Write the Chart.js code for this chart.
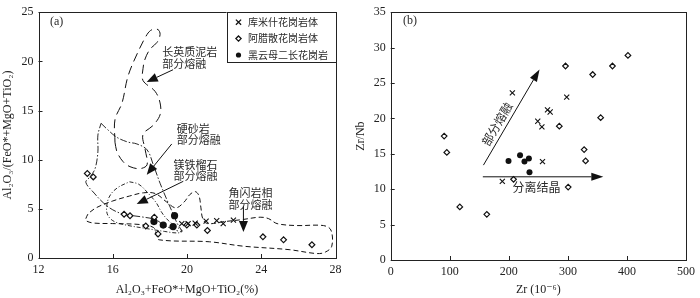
<!DOCTYPE html>
<html>
<head>
<meta charset="utf-8">
<script src="https://cdn.jsdelivr.net/npm/chart.js@4"></script>
<style>
html, body { margin: 0; padding: 0; background: #fff; }
#wrap { position: relative; width: 700px; height: 298px; }
.box { position: absolute; top: 0; width: 350px; height: 298px; }
</style>
</head>
<body>
<div id="wrap">
  <div class="box" style="left:0"><canvas id="chartA"></canvas></div>
  <div class="box" style="left:350px"><canvas id="chartB"></canvas></div>
</div>
<script>
// tick labels
const xTicksA = [12, 16, 20, 24, 28];
const yTicksA = [0, 5, 10, 15, 20, 25];
const xTicksB = [0, 100, 200, 300, 400, 500];
const yTicksB = [0, 5, 10, 15, 20, 25, 30, 35];

const seriesNames = ['库米什花岗岩体', '阿腊散花岗岩体', '黑云母二长花岗岩'];

// (a) Al2O3+FeO*+MgO+TiO2 vs Al2O3/(FeO*+MgO+TiO2)
const kumishiA = [[19.72, 3.5], [20.06, 3.5], [20.44, 3.55], [21.03, 3.75], [21.6, 3.8], [21.95, 3.5], [22.5, 3.85]];
const alasanA = [[14.63, 8.6], [14.95, 8.25], [16.61, 4.45], [16.93, 4.3], [17.78, 3.25], [18.24, 4.15], [18.44, 2.45],
  [19.99, 3.35], [20.53, 3.35], [21.1, 2.8], [24.09, 2.15], [25.2, 1.85], [26.73, 1.35]];
const biotiteA = [[18.22, 3.7], [18.72, 3.35], [19.25, 3.2], [19.33, 4.3]];

// melt fields of the experimental sources
const pelite = [[16.12, 11.78], [16.12, 14.07], [16.5, 15.77], [16.82, 18.48], [17.31, 20.75], [17.85, 22.74], [18.12, 23.23],
  [18.44, 23.23], [18.55, 22.74], [18.39, 21.94], [18.01, 21.24], [17.74, 20.24], [17.63, 19.25], [17.63, 18.05],
  [18.28, 16.95], [18.55, 15.77], [18.55, 14.57], [18.17, 13.48], [17.63, 12.57], [17.74, 11.08], [17.85, 9.49],
  [17.47, 9.09], [16.93, 9.29], [16.56, 9.79], [16.23, 10.79], [16.12, 11.78]];
const greywacke = [[15.37, 13.7], [15.7, 13.1], [16.2, 12.3], [16.8, 11.8], [17.3, 11.6], [17.85, 11.0], [18.2, 9.4],
  [18.55, 7.6], [18.9, 6.0], [19.2, 4.7], [19.45, 3.6], [19.7, 2.7], [19.3, 2.9], [18.8, 3.3], [18.3, 3.9], [17.5, 4.2],
  [16.6, 4.45], [16.0, 4.9], [15.5, 5.6], [15.0, 6.6], [14.55, 7.7], [14.8, 8.3], [15.05, 9.1], [15.2, 10.8],
  [15.2, 12.5], [15.37, 13.7]];
const mafic = [[16.9, 7.75], [17.4, 7.5], [17.9, 6.6], [18.35, 5.6], [18.65, 4.6], [19.0, 3.8], [19.4, 3.2], [19.75, 2.75],
  [19.5, 2.55], [18.8, 2.7], [17.8, 3.0], [16.6, 3.4], [16.0, 3.8], [15.7, 4.5], [15.7, 5.6], [15.9, 6.5], [16.3, 7.2],
  [16.9, 7.75]];
const amphibolite = [[14.55, 4.0], [14.68, 4.5], [15.14, 5.14], [16.0, 5.8], [16.9, 6.3], [17.65, 6.63], [18.3, 6.55],
  [18.9, 5.7], [19.4, 5.1], [19.85, 5.7], [20.15, 6.45], [20.45, 6.75], [20.65, 6.3], [20.75, 5.1], [20.85, 4.0],
  [21.1, 3.5], [22.0, 3.7], [22.95, 3.9], [23.94, 4.15], [24.4, 4.0], [24.85, 3.5], [25.9, 3.3], [27.35, 3.3],
  [27.75, 2.85], [27.8, 1.2], [27.45, 0.6], [27.0, 0.45], [25.5, 0.85], [23.04, 1.2], [21.2, 1.65], [18.5, 1.85],
  [18.35, 2.4], [18.2, 3.1], [17.5, 3.4], [16.0, 3.5], [15.0, 3.55], [14.6, 3.75], [14.55, 4.0]];

// (b) Zr vs Zr/Nb
const kumishiB = [[206, 23.6], [298, 23.0], [265.5, 21.2], [270, 20.9], [249, 19.6], [256, 18.8], [257, 13.9], [189, 11.1]];
const alasanB = [[90.5, 17.5], [95, 15.2], [296, 27.4], [342, 26.2], [375.5, 27.4], [401.7, 28.9], [285.5, 18.9],
  [355.5, 20.1], [327.5, 15.6], [330, 14.0], [300.5, 10.3], [208, 11.4], [117, 7.5], [162.7, 6.45]];
const biotiteB = [[199.5, 14.0], [219, 14.8], [226.5, 13.9], [234, 14.35], [235, 12.4]];

// annotations (data units)
const arrowsA = [[19.25, 19.15, 17.83, 17.9], [19.18, 11.6, 17.83, 8.47], [19.8, 7.8, 17.29, 5.48], [23.04, 5.3, 23.04, 2.65]];
const labelsA = [['(a)', 12.62, 24.0, 'serif'],
  ['长英质泥岩', 18.66, 20.95], ['部分熔融', 18.66, 19.75],
  ['硬砂岩', 19.45, 13.15], ['部分熔融', 19.45, 12.05],
  ['镁铁榴石', 19.27, 9.5], ['部分熔融', 19.27, 8.35],
  ['角闪岩相', 22.23, 6.65], ['部分熔融', 22.23, 5.45]];
const arrowsB = [[157, 13.4, 252, 26.9], [156, 11.75, 360, 11.75]];
const labelsB = [['(b)', 21, 33.8, 'serif'], ['部分熔融', 180, 19.2, 'rot'], ['分离结晶', 247, 10.3, 'center']];

const toXY = arr => arr.map(p => ({ x: p[0], y: p[1] }));
const INK = '#111';
const serif = '"Liberation Serif", "DejaVu Serif", serif';
const cjk = '"Noto Sans CJK SC", sans-serif';

function drawArrow(ctx, x1, y1, x2, y2, len, half) {
  const a = Math.atan2(y2 - y1, x2 - x1);
  const bx = x2 - len * Math.cos(a), by = y2 - len * Math.sin(a);
  ctx.beginPath();
  ctx.moveTo(x1, y1);
  ctx.lineTo(bx, by);
  ctx.stroke();
  ctx.beginPath();
  ctx.moveTo(x2, y2);
  ctx.lineTo(bx + half * Math.sin(a), by - half * Math.cos(a));
  ctx.lineTo(bx - half * Math.sin(a), by + half * Math.cos(a));
  ctx.closePath();
  ctx.fill();
}

function drawMarker(ctx, kind, x, y, r) {
  ctx.beginPath();
  if (kind === 0) {
    ctx.moveTo(x - r, y - r); ctx.lineTo(x + r, y + r);
    ctx.moveTo(x + r, y - r); ctx.lineTo(x - r, y + r);
    ctx.stroke();
  } else if (kind === 1) {
    ctx.moveTo(x, y - r); ctx.lineTo(x + r, y); ctx.lineTo(x, y + r); ctx.lineTo(x - r, y); ctx.closePath();
    ctx.fillStyle = '#fff'; ctx.fill(); ctx.stroke();
  } else {
    ctx.arc(x, y, r, 0, Math.PI * 2);
    ctx.fillStyle = INK; ctx.fill();
  }
}

const decor = {
  id: 'decor',
  afterDraw(chart, args, opts) {
    const { ctx, chartArea: ca } = chart;
    const x = chart.scales.x, y = chart.scales.y;
    ctx.save();
    ctx.strokeStyle = '#222';
    ctx.lineWidth = 1;
    ctx.strokeRect(Math.round(ca.left) + 0.5, Math.round(ca.top) + 0.5, Math.round(ca.width), Math.round(ca.height));
    ctx.beginPath();
    x.ticks.forEach(t => {
      const px = Math.round(x.getPixelForValue(t.value)) + 0.5;
      ctx.moveTo(px, ca.bottom); ctx.lineTo(px, ca.bottom - 4);
    });
    y.ticks.forEach(t => {
      const py = Math.round(y.getPixelForValue(t.value)) + 0.5;
      ctx.moveTo(ca.left, py); ctx.lineTo(ca.left + 4, py);
    });
    ctx.stroke();

    ctx.strokeStyle = INK;
    ctx.fillStyle = INK;
    opts.arrows.forEach(a => drawArrow(ctx, x.getPixelForValue(a[0]), y.getPixelForValue(a[1]),
      x.getPixelForValue(a[2]), y.getPixelForValue(a[3]), opts.head[0], opts.head[1]));

    ctx.textBaseline = 'middle';
    opts.labels.forEach(l => {
      const px = x.getPixelForValue(l[1]), py = y.getPixelForValue(l[2]);
      ctx.fillStyle = '#2a2a2a';
      if (l[3] === 'serif') {
        ctx.font = '12px ' + serif; ctx.textAlign = 'left';
        ctx.fillText(l[0], px, py);
      } else if (l[3] === 'rot') {
        const a = opts.arrows[0];
        const ang = Math.atan2(y.getPixelForValue(a[3]) - y.getPixelForValue(a[1]),
          x.getPixelForValue(a[2]) - x.getPixelForValue(a[0]));
        ctx.font = opts.font; ctx.textAlign = 'center';
        ctx.translate(px, py); ctx.rotate(ang); ctx.fillText(l[0], 0, 0);
        ctx.setTransform(1, 0, 0, 1, 0, 0);
      } else {
        ctx.font = opts.font; ctx.textAlign = l[3] === 'center' ? 'center' : 'left';
        ctx.fillText(l[0], px, py);
      }
    });

    if (opts.legend) {
      const lx = ca.right - 109, ly = ca.top;
      ctx.fillStyle = '#fff';
      ctx.fillRect(lx, ly, ca.right - lx, 50.5);
      ctx.strokeStyle = '#222';
      ctx.strokeRect(Math.round(lx) + 0.5, Math.round(ly) + 0.5, Math.round(ca.right - lx), 50);
      ctx.font = '10px ' + cjk; ctx.textAlign = 'left';
      seriesNames.forEach((n, i) => {
        const ry = ly + 10 + i * 16.4;
        ctx.strokeStyle = INK; ctx.lineWidth = 1.3;
        drawMarker(ctx, i, lx + 12, ry, 2.6);
        ctx.fillStyle = '#2a2a2a';
        ctx.fillText(n, lx + 21.5, ry);
      });
    }
    ctx.restore();
  }
};

function markerSets(kum, ala, bio, rc, rd, rb) {
  return [
    { label: seriesNames[0], data: toXY(kum), pointStyle: 'crossRot', pointRadius: rc, borderColor: INK, borderWidth: 1.1, order: 0 },
    { label: seriesNames[1], data: toXY(ala), pointStyle: 'rectRot', pointRadius: rd, borderColor: INK, backgroundColor: '#fff', borderWidth: 1.2, order: 0 },
    { label: seriesNames[2], data: toXY(bio), pointStyle: 'circle', pointRadius: rb, borderColor: INK, backgroundColor: INK, borderWidth: 0, order: 0 }
  ];
}

function region(pts, dash, width) {
  return { data: toXY(pts), showLine: true, pointRadius: 0, borderColor: INK, borderWidth: width, borderDash: dash, tension: 0.35, fill: false, order: 1 };
}

function axes(xmin, xmax, ymin, ymax, xt, yt, xTitle, yTitle, yWidth, xHeight, yTitlePad) {
  const tickFont = { family: serif, size: 12 };
  return {
    x: {
      type: 'linear', min: xmin, max: xmax,
      afterBuildTicks: s => { s.ticks = xt.map(v => ({ value: v })); },
      afterFit: s => { s.height = xHeight; },
      grid: { display: false, drawTicks: false }, border: { display: false },
      ticks: { font: tickFont, color: '#222', padding: 5, maxRotation: 0 },
      title: { display: true, text: xTitle, font: { family: serif, size: 12 }, color: '#222', padding: { top: 0, bottom: 1 } }
    },
    y: {
      type: 'linear', min: ymin, max: ymax,
      afterBuildTicks: s => { s.ticks = yt.map(v => ({ value: v })); },
      afterFit: s => { s.width = yWidth; },
      grid: { display: false, drawTicks: false }, border: { display: false },
      ticks: { font: tickFont, color: '#222', padding: 5 },
      title: { display: true, text: yTitle, font: { family: serif, size: 12 }, color: '#222', padding: { top: yTitlePad, bottom: 0 } }
    }
  };
}

new Chart(document.getElementById('chartA'), {
  type: 'scatter',
  data: {
    datasets: markerSets(kumishiA, alasanA, biotiteA, 3.6, 2.9, 3.6).concat([
      region(pelite, [9, 5], 1),
      region(greywacke, [7, 2, 1.5, 2], 0.9),
      region(mafic, [4, 2, 1, 2], 0.9),
      region(amphibolite, [5, 3], 1)
    ])
  },
  options: {
    responsive: true, maintainAspectRatio: false, animation: false,
    layout: { padding: { top: 7, right: 14.5, left: 0, bottom: 0 } },
    scales: axes(12, 28, 0, 25, xTicksA, yTicksA, 'Al₂O₃+FeO*+MgO+TiO₂(%)', 'Al₂O₃/(FeO*+MgO+TiO₂)', 38.5, 40, 1),
    plugins: {
      legend: { display: false }, tooltip: { enabled: false },
      decor: { arrows: arrowsA, labels: labelsA, head: [11, 4.5], font: '11px ' + cjk, legend: true }
    }
  },
  plugins: [decor]
});

new Chart(document.getElementById('chartB'), {
  type: 'scatter',
  data: { datasets: markerSets(kumishiB, alasanB, biotiteB, 3.6, 2.8, 3) },
  options: {
    responsive: true, maintainAspectRatio: false, animation: false,
    layout: { padding: { top: 6.7, right: 10, left: 0, bottom: 0 } },
    scales: axes(0, 500, 0, 35, xTicksB, yTicksB, 'Zr (10⁻⁶)', 'Zr/Nb', 40.7, 38, 4),
    plugins: {
      legend: { display: false }, tooltip: { enabled: false },
      decor: { arrows: arrowsB, labels: labelsB, head: [12, 4], font: '12px ' + cjk, legend: false }
    }
  },
  plugins: [decor]
});
</script>
</body>
</html>
